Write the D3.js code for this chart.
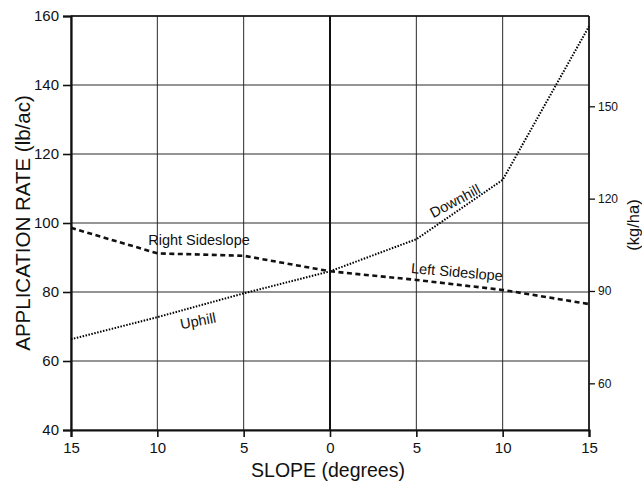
<!DOCTYPE html>
<html><head><meta charset="utf-8">
<script src="https://cdn.jsdelivr.net/npm/d3@7"></script>
<style>body{margin:0;background:#fff}svg{display:block}text{font-family:"Liberation Sans",Arial,sans-serif;fill:#111}</style>
</head><body><svg id="c" width="642" height="483"></svg>
<script>
// slope: negative = left half of axis (uphill / right sideslope), positive = right half
const uphillSlope = [-15, -10, -5, 0];
const uphillRate = [66.3, 72.7, 79.6, 86];
const downhillSlope = [0, 5, 10, 15];
const downhillRate = [86, 95.3, 112.5, 157];
const rightSideSlope = [-15, -10, -5, 0];
const rightSideRate = [98.6, 91.2, 90.5, 86];
const leftSideSlope = [0, 5, 10, 15];
const leftSideRate = [86, 83.5, 80.6, 76.5];
const xTicks = [-15, -10, -5, 0, 5, 10, 15];
const yTicks = [40, 60, 80, 100, 120, 140, 160];
const kgTicks = [60, 90, 120, 150];
const LB_TO_KG = 1.12085;

const svg = d3.select("#c");
const m = {l:71, r:53, t:16, b:53};
const W = 642, H = 483;
const x = d3.scaleLinear().domain([-15, 15]).range([m.l, W - m.r]);
const y = d3.scaleLinear().domain([40, 160]).range([H - m.b, m.t]);
const yKg = d3.scaleLinear().domain([40 * LB_TO_KG, 160 * LB_TO_KG]).range([H - m.b, m.t]);

// grid
const g = svg.append("g");
g.selectAll(".hg").data(yTicks).join("line")
  .attr("x1", x(-15)).attr("x2", x(15)).attr("y1", d => y(d)).attr("y2", d => y(d))
  .attr("stroke", "#2a2a2a").attr("stroke-width", 1);
g.selectAll(".vg").data(xTicks).join("line")
  .attr("y1", y(40)).attr("y2", y(160)).attr("x1", d => x(d)).attr("x2", d => x(d))
  .attr("stroke", "#2a2a2a").attr("stroke-width", 1);
// border / center line
g.append("line").attr("x1", x(-15)).attr("x2", x(15)).attr("y1", y(160)).attr("y2", y(160)).attr("stroke", "#111").attr("stroke-width", 1.6);
g.append("line").attr("x1", x(15)).attr("x2", x(15)).attr("y1", y(40)).attr("y2", y(160)).attr("stroke", "#111").attr("stroke-width", 1.6);
g.append("line").attr("x1", x(0)).attr("x2", x(0)).attr("y1", y(40)).attr("y2", y(160)).attr("stroke", "#111").attr("stroke-width", 2);

// axes
const axL = svg.append("g").attr("transform", `translate(${m.l},0)`)
  .call(d3.axisLeft(y).tickValues(yTicks).tickSize(8).tickPadding(4));
const axB = svg.append("g").attr("transform", `translate(0,${H - m.b})`)
  .call(d3.axisBottom(x).tickValues(xTicks).tickFormat(d => Math.abs(d)).tickSize(7).tickPadding(5));
const axR = svg.append("g").attr("transform", `translate(${W - m.r},0)`)
  .call(d3.axisRight(yKg).tickValues(kgTicks).tickSize(6).tickPadding(3));
[axL, axB].forEach(a => {
  a.select(".domain").attr("stroke", "#111").attr("stroke-width", 2.2);
  a.selectAll(".tick line").attr("stroke", "#111").attr("stroke-width", 1.6);
  a.selectAll(".tick text").style("font-size", "15px").attr("fill", "#111");
});
axR.select(".domain").remove();
axR.selectAll(".tick line").attr("stroke", "#111").attr("stroke-width", 1.3);
axR.selectAll(".tick text").style("font-size", "12px").attr("fill", "#111");

// lines
const line = d3.line().x(d => x(d[0])).y(d => y(d[1]));
const mk = (xs, ys) => xs.map((v, i) => [v, ys[i]]);
svg.append("path").datum(mk(uphillSlope, uphillRate)).attr("d", line)
  .attr("fill", "none").attr("stroke", "#000").attr("stroke-width", 2).attr("stroke-dasharray", "1.5,1.5");
svg.append("path").datum(mk(downhillSlope, downhillRate)).attr("d", line)
  .attr("fill", "none").attr("stroke", "#000").attr("stroke-width", 2).attr("stroke-dasharray", "1.5,1.5");
svg.append("path").datum(mk(rightSideSlope, rightSideRate)).attr("d", line)
  .attr("fill", "none").attr("stroke", "#111").attr("stroke-width", 2.6).attr("stroke-dasharray", "5,3.5");
svg.append("path").datum(mk(leftSideSlope, leftSideRate)).attr("d", line)
  .attr("fill", "none").attr("stroke", "#111").attr("stroke-width", 2.6).attr("stroke-dasharray", "5,3.5");

// labels
const lab = (t, cx, cy, rot) => svg.append("text").text(t)
  .attr("transform", `translate(${cx},${cy}) rotate(${rot})`)
  .attr("text-anchor", "middle").attr("dominant-baseline", "central").style("font-size", "14.5px");
lab("Right Sideslope", 199, 240, 0);
lab("Left Sideslope", 457, 272, 5);
lab("Uphill", 198, 321, -11);
lab("Downhill", 455, 201, -28);

// titles
svg.append("text").text("SLOPE (degrees)").attr("x", x(0) - 2).attr("y", 477)
  .attr("text-anchor", "middle").style("font-size", "19.5px");
svg.append("text").text("APPLICATION RATE (lb/ac)")
  .attr("transform", `translate(22,${(y(40) + y(160)) / 2}) rotate(-90)`)
  .attr("text-anchor", "middle").attr("dominant-baseline", "central").style("font-size", "20.5px");
svg.append("text").text("(kg/ha)")
  .attr("transform", `translate(633,225) rotate(-90)`)
  .attr("text-anchor", "middle").attr("dominant-baseline", "central").style("font-size", "16.5px");
</script></body></html>
